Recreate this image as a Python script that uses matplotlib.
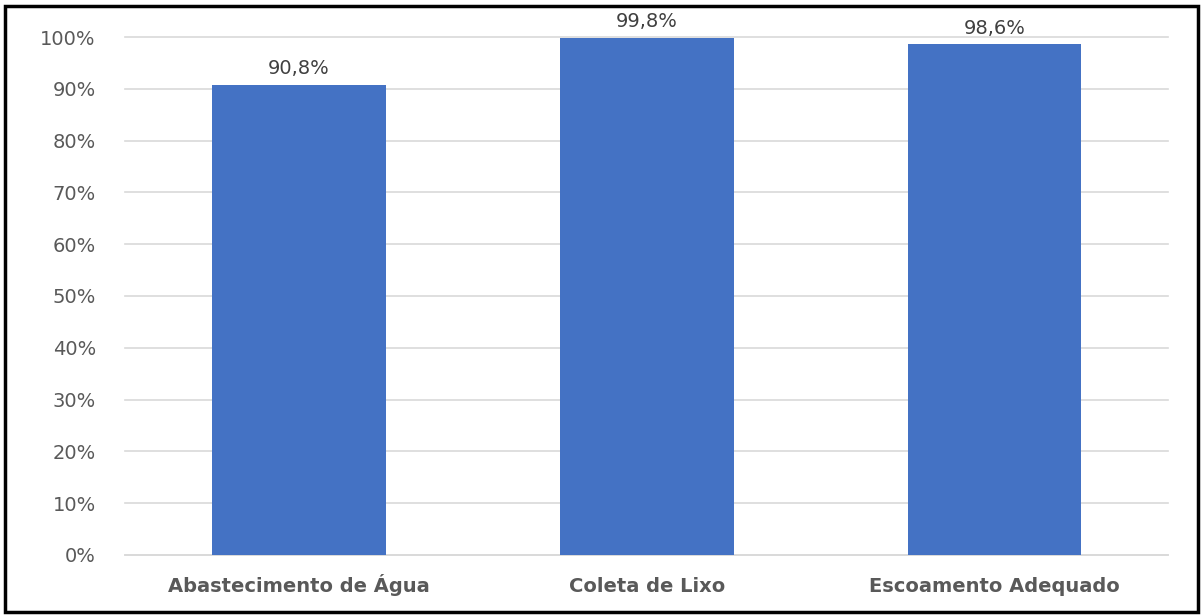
import matplotlib
matplotlib.use("Agg")
import matplotlib.pyplot as plt
from matplotlib.patches import Rectangle
from matplotlib.ticker import FuncFormatter

categories = ["Abastecimento de Água", "Coleta de Lixo", "Escoamento Adequado"]
values = [90.8, 99.8, 98.6]
labels = ["90,8%", "99,8%", "98,6%"]
yticks = [0, 10, 20, 30, 40, 50, 60, 70, 80, 90, 100]

plt.rcParams['font.family'] = ['DejaVu Sans']

fig = plt.figure(figsize=(12.02, 6.15), dpi=100)
ax = fig.add_axes([0.104, 0.0976, 0.868, 0.8422])

x = range(len(categories))
bars = ax.bar(x, values, width=0.5, color="#4472C4", zorder=3)
for xi, v, lab in zip(x, values, labels):
    ax.text(xi, v + 1.3, lab, ha="center", va="bottom", fontsize=14, color="#404040")

ax.set_xlim(-0.5, 2.5)
ax.set_ylim(0, 100)
ax.set_yticks(yticks)
ax.yaxis.set_major_formatter(FuncFormatter(lambda v, p: f"{int(v)}%"))
ax.set_xticks(list(x))
ax.set_xticklabels(categories, fontsize=14, fontweight="bold", color="#595959")
for lbl in ax.get_xticklabels():
    lbl.set_verticalalignment("baseline")
ax.tick_params(axis="y", labelsize=14, labelcolor="#595959", length=0, pad=21)
ax.tick_params(axis="x", length=0, pad=27)
ax.grid(axis="y", color="#D9D9D9", linewidth=1.2, zorder=0)
for gl in ax.get_ygridlines():
    gl.set_clip_on(False)
for s in ["top", "right", "left"]:
    ax.spines[s].set_visible(False)
ax.spines["bottom"].set_color("#D9D9D9")
ax.spines["bottom"].set_linewidth(1.2)

fig.patches.append(Rectangle((5/1202, 3/615), 1193/1202, 606/615, transform=fig.transFigure,
                             fill=False, edgecolor="black", linewidth=2.5))

fig.savefig("out.png", dpi=100)
